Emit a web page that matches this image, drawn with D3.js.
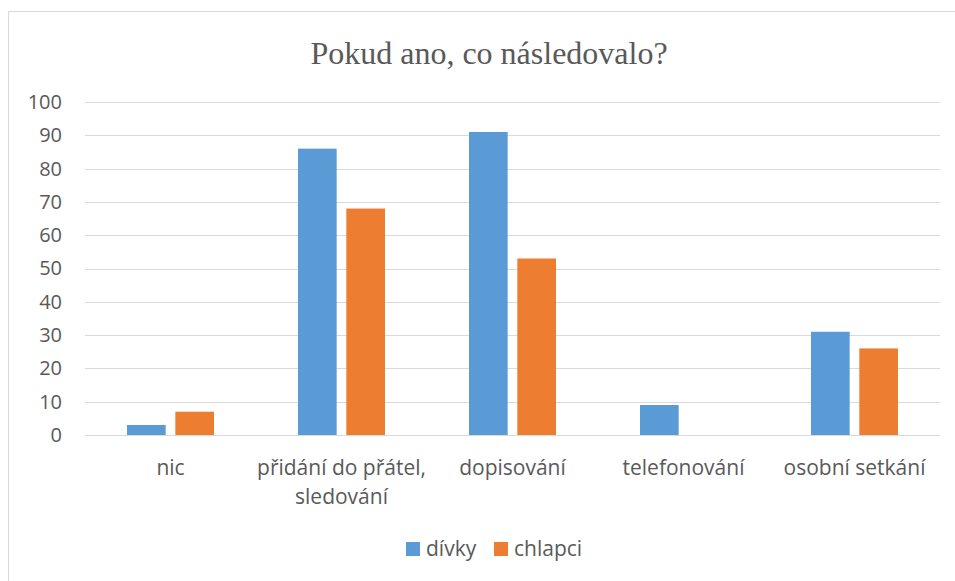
<!DOCTYPE html>
<html>
<head>
<meta charset="utf-8">
<script src="https://cdn.jsdelivr.net/npm/d3@7"></script>
<style>
  body { margin: 0; background: #fff; }
  text { fill: #595959; }
</style>
</head>
<body>
<div id="chart"></div>
<script>
// data
var categories = ["nic", "přidání do přátel, sledování", "dopisování", "telefonování", "osobní setkání"];
var categoryLines = [["nic"], ["přidání do přátel,", "sledování"], ["dopisování"], ["telefonování"], ["osobní setkání"]];
var seriesNames = ["dívky", "chlapci"];
var divky = [3, 86, 91, 9, 31];
var chlapci = [7, 68, 53, 0, 26];
var yTicks = [0, 10, 20, 30, 40, 50, 60, 70, 80, 90, 100];
var colors = ["#5b9bd5", "#ed7d31"];

var labelFont = "'Open Sans', Lato, sans-serif";

var svgWidth = 955, svgHeight = 581;
var margin = { top: 102, bottom: 146, left: 85, right: 15 };
var width = svgWidth - margin.left - margin.right;
var height = svgHeight - margin.top - margin.bottom;

var svg = d3.select("#chart").append("svg")
  .attr("width", svgWidth)
  .attr("height", svgHeight);

// chart border (only left and top visible in the picture)
svg.append("rect")
  .attr("x", 8.5).attr("y", 11.5)
  .attr("width", 960).attr("height", 600)
  .attr("fill", "none")
  .attr("stroke", "#d9d9d9");

svg.append("text")
  .attr("x", 489).attr("y", 64)
  .attr("text-anchor", "middle")
  .style("font-family", "'Liberation Serif', 'Times New Roman', serif")
  .style("font-size", "32px")
  .text("Pokud ano, co následovalo?");

var chartGroup = svg.append("g")
  .attr("transform", `translate(${margin.left}, ${margin.top})`);

var x0 = d3.scaleBand().domain(categories).range([0, width]);
var x1 = d3.scaleBand().domain(seriesNames)
  .range([x0.bandwidth() / 2 - 43.5, x0.bandwidth() / 2 + 43.5])
  .paddingInner(0.2);
var y = d3.scaleLinear().domain([0, 100]).range([height, 0]);

// gridlines
chartGroup.selectAll(".grid")
  .data(yTicks)
  .enter()
  .append("line")
  .attr("x1", 0).attr("x2", width)
  .attr("y1", d => Math.round(y(d)) + 0.5)
  .attr("y2", d => Math.round(y(d)) + 0.5)
  .attr("stroke", "#d9d9d9")
  .attr("stroke-width", 1);

// y axis labels
var leftAxis = d3.axisLeft(y).tickValues(yTicks).tickSize(0).tickPadding(23);
var yAxis = chartGroup.append("g").call(leftAxis);
yAxis.select(".domain").remove();
yAxis.selectAll("text")
  .style("font-family", labelFont)
  .style("font-size", "20px")
  .attr("fill", "#595959");

// bars
var table = categories.map((c, i) => ({ cat: c, values: [divky[i], chlapci[i]] }));
var groups = chartGroup.selectAll(".cat")
  .data(table)
  .enter()
  .append("g")
  .attr("transform", d => `translate(${x0(d.cat)}, 0)`);

groups.selectAll("rect")
  .data(d => d.values.map((v, j) => ({ name: seriesNames[j], value: v, color: colors[j] })))
  .enter()
  .append("rect")
  .attr("x", d => x1(d.name))
  .attr("width", x1.bandwidth())
  .attr("y", d => y(d.value))
  .attr("height", d => height - y(d.value))
  .attr("fill", d => d.color);

// x axis line drawn over bars
chartGroup.append("line")
  .attr("x1", 0).attr("x2", width)
  .attr("y1", Math.round(y(0)) + 0.5).attr("y2", Math.round(y(0)) + 0.5)
  .attr("stroke", "#d9d9d9");

// category labels
groups.each(function(d, i) {
  var t = d3.select(this).append("text")
    .attr("text-anchor", "middle")
    .attr("x", x0.bandwidth() / 2)
    .attr("y", height + 40)
    .style("font-family", labelFont)
    .style("font-size", "21px");
  categoryLines[i].forEach((line, k) => {
    t.append("tspan")
      .attr("x", x0.bandwidth() / 2)
      .attr("dy", k === 0 ? 0 : 29)
      .text(line);
  });
});

// legend
var legend = svg.append("g").attr("transform", "translate(406, 542)");
var legendX = [0, 88];
seriesNames.forEach((name, j) => {
  var item = legend.append("g").attr("transform", `translate(${legendX[j]}, 0)`);
  item.append("rect")
    .attr("width", 14).attr("height", 14)
    .attr("fill", colors[j]);
  item.append("text")
    .attr("x", 20).attr("y", 14)
    .style("font-family", labelFont)
    .style("font-size", "21px")
    .text(name);
});
</script>
</body>
</html>
